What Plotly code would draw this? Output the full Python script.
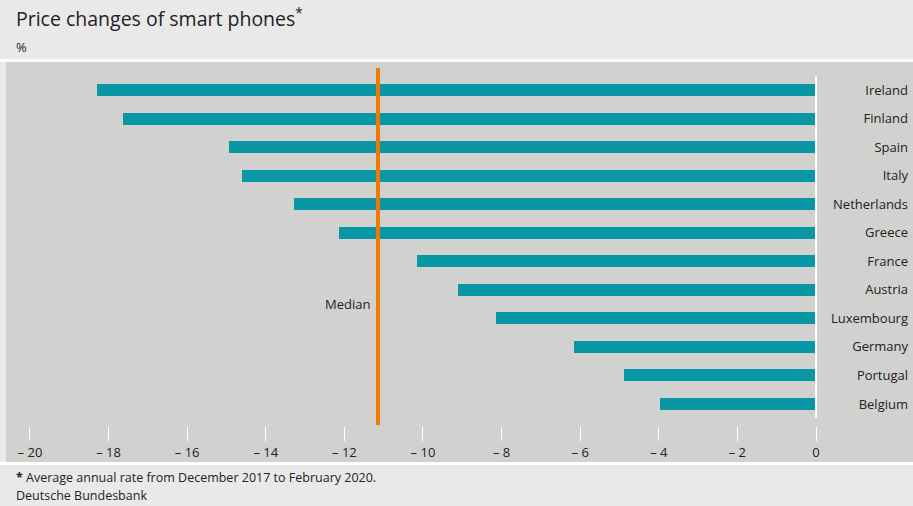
import numpy as np
import plotly.graph_objects as go

countries = ["Ireland", "Finland", "Spain", "Italy", "Netherlands", "Greece",
             "France", "Austria", "Luxembourg", "Germany", "Portugal", "Belgium"]
changes = [-18.3, -17.63, -14.94, -14.6, -13.28, -12.14,
           -10.15, -9.11, -8.14, -6.16, -4.89, -3.97]
tick_vals = [-20, -18, -16, -14, -12, -10, -8, -6, -4, -2, 0]
tick_text = ["– 20", "– 18", "– 16", "– 14", "– 12", "– 10", "– 8", "– 6", "– 4", "– 2", "0"]
median_value = float(np.median(changes))

W, H = 913, 506
L, R, T, B = 6, 0, 62, 80  # plot area: x 6..913, y 62..426
ph = H - T - B

FONT = "Open Sans"
TEAL = "#0a97a5"
ORANGE = "#ef7a00"
GRAY = "#d1d1d0"
LIGHT = "#e9e9e9"

fig = go.Figure()
fig.add_trace(go.Bar(
    x=changes, y=countries, orientation="h",
    marker=dict(color=TEAL, line=dict(width=0)),
    width=0.42, hoverinfo="x+y",
))

def py(pix):
    # convert a pixel y (from top) to paper coordinate
    return (H - B - pix) / ph

shapes = [
    dict(type="rect", xref="paper", yref="paper", x0=0, x1=1, y0=py(462), y1=py(62),
         fillcolor=GRAY, line=dict(width=0), layer="below"),
    dict(type="rect", xref="paper", yref="paper", x0=-L / (W - L - R), x1=1, y0=py(462), y1=py(465),
         fillcolor="white", line=dict(width=0), layer="below"),
    dict(type="rect", xref="paper", yref="paper", x0=-L / (W - L - R), x1=1, y0=py(59), y1=py(62),
         fillcolor="white", line=dict(width=0), layer="below"),
    dict(type="line", xref="x", yref="paper", x0=0, x1=0, y0=py(418), y1=py(76),
         line=dict(color="white", width=2), layer="above"),
    dict(type="line", xref="x", yref="paper", x0=median_value, x1=median_value,
         y0=py(425), y1=py(68), line=dict(color=ORANGE, width=4), layer="above"),
]

annotations = [
    dict(text="Price changes of smart phones<sup>*</sup>", xref="paper", yref="paper",
         x=(14 - L) / (W - L - R), y=py(18), xanchor="left", yanchor="middle",
         showarrow=False, font=dict(family=FONT, size=19.5, color="#222222")),
    dict(text="%", xref="paper", yref="paper",
         x=(14 - L) / (W - L - R), y=py(47), xanchor="left", yanchor="middle",
         showarrow=False, font=dict(family=FONT, size=13, color="#222222")),
    dict(text="<b>*</b> Average annual rate from December 2017 to February 2020.", xref="paper", yref="paper",
         x=(14 - L) / (W - L - R), y=py(477), xanchor="left", yanchor="middle",
         showarrow=False, font=dict(family=FONT, size=12.5, color="#222222")),
    dict(text="Deutsche Bundesbank", xref="paper", yref="paper",
         x=(14 - L) / (W - L - R), y=py(495), xanchor="left", yanchor="middle",
         showarrow=False, font=dict(family=FONT, size=12.5, color="#222222")),
    dict(text="Median", x=median_value, y=7.5, xref="x", yref="y",
         xanchor="right", yanchor="middle", xshift=-6, showarrow=False,
         font=dict(family=FONT, size=13, color="#222222")),
]

fig.update_layout(
    width=W, height=H,
    margin=dict(l=L, r=R, t=T, b=B, pad=0),
    paper_bgcolor=LIGHT, plot_bgcolor=GRAY,
    showlegend=False, bargap=0,
    shapes=shapes, annotations=annotations,
    font=dict(family=FONT, size=13, color="#222222"),
    xaxis=dict(range=[-20.61, 2.468], tickvals=tick_vals, ticktext=tick_text,
               ticks="outside", ticklen=14, tickwidth=1, tickcolor="white",
               showgrid=False, zeroline=False, showline=False,
               tickfont=dict(family=FONT, size=13, color="#222222")),
    yaxis=dict(type="category", categoryorder="array", categoryarray=countries,
               range=[11.77, -0.98], side="right", ticklabelposition="inside",
               ticks="", showgrid=False, zeroline=False, showline=False,
               ticklabelstandoff=2,
               tickfont=dict(family=FONT, size=13, color="#222222")),
)

fig.write_html("out.html")
